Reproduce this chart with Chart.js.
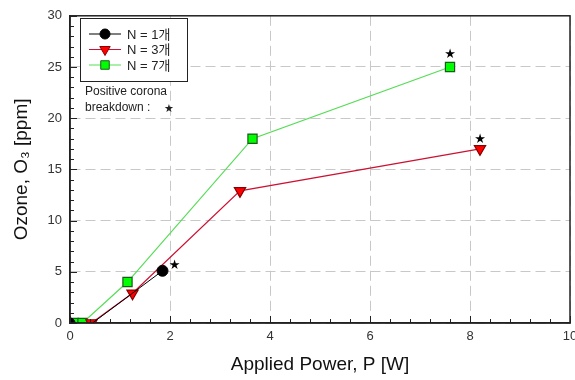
<!DOCTYPE html>
<html>
<head>
<meta charset="utf-8">
<script src="https://cdn.jsdelivr.net/npm/chart.js@4/dist/chart.umd.min.js"></script>
<style>
  body { margin: 0; background: #fff; }
</style>
</head>
<body>
<canvas id="myChart" width="575" height="380"></canvas>
<script>
// series data: [power W, ozone ppm]
const n1Power = [0, 0.45, 1.85];
const n1Ozone = [0, 0, 5.1];
const n3Power = [0.43, 1.25, 3.4, 8.2];
const n3Ozone = [0, 2.9, 12.9, 17.0];
const n7Power = [0.08, 0.25, 1.15, 3.65, 7.6];
const n7Ozone = [0, 0, 4.0, 18.0, 25.0];
const seriesNames = ['N = 1개', 'N = 3개', 'N = 7개'];
// last point of each series is the corona breakdown (star)
const breakdownMarks = [
    { ds: 0, idx: 2, dx: 12, dy: -5 },
    { ds: 1, idx: 3, dx: 0, dy: -9 },
    { ds: 2, idx: 4, dx: 0, dy: -12 }
];
const xTicks = [0, 2, 4, 6, 8, 10];
const yTicks = [0, 5, 10, 15, 20, 25, 30];

function pts(xs, ys) {
    return xs.map((x, i) => ({ x: x, y: ys[i] }));
}

const extras = {
    id: 'extras',
    afterDraw(chart) {
        const ctx = chart.ctx;
        const a = chart.chartArea;
        const xs = chart.scales.x, ys = chart.scales.y;
        ctx.save();
        // frame
        ctx.strokeStyle = '#222';
        ctx.lineWidth = 1.5;
        ctx.strokeRect(a.left, a.top, a.right - a.left, a.bottom - a.top);
        // minor / major ticks pointing inward (4 minor per major)
        ctx.lineWidth = 1;
        for (let k = 0; k <= 25; k++) {
            const px = Math.round(xs.getPixelForValue(k * 0.4)) + 0.5;
            const len = (k % 5 === 0) ? 7 : 4;
            ctx.beginPath();
            ctx.moveTo(px, a.bottom);
            ctx.lineTo(px, a.bottom - len);
            ctx.stroke();
        }
        for (let v = 0; v <= 30; v += 1) {
            const py = Math.round(ys.getPixelForValue(v)) + 0.5;
            const len = (v % 5 === 0) ? 7 : 4;
            ctx.beginPath();
            ctx.moveTo(a.left, py);
            ctx.lineTo(a.left + len, py);
            ctx.stroke();
        }
        // breakdown stars
        ctx.fillStyle = '#000';
        ctx.font = '13px "DejaVu Sans"';
        ctx.textAlign = 'center';
        ctx.textBaseline = 'middle';
        breakdownMarks.forEach(m => {
            const p = chart.data.datasets[m.ds].data[m.idx];
            ctx.fillText('★', xs.getPixelForValue(p.x) + m.dx, ys.getPixelForValue(p.y) + m.dy);
        });
        // legend box
        const lx = 80, ly = 18, lw = 107, lh = 63;
        ctx.fillStyle = '#fff';
        ctx.fillRect(lx, ly, lw, lh);
        ctx.strokeStyle = '#222';
        ctx.lineWidth = 1;
        ctx.strokeRect(lx + 0.5, ly + 0.5, lw, lh);
        ctx.textAlign = 'left';
        chart.data.datasets.forEach((ds, i) => {
            const y = ly + 16 + i * 15.5;
            ctx.strokeStyle = ds.borderColor;
            ctx.lineWidth = 1;
            ctx.beginPath();
            ctx.moveTo(lx + 9, y);
            ctx.lineTo(lx + 41, y);
            ctx.stroke();
            ctx.fillStyle = ds.pointBackgroundColor;
            ctx.strokeStyle = ds.pointBorderColor;
            Chart.helpers.drawPoint(ctx, {
                pointStyle: ds.pointStyle,
                rotation: ds.rotation || 0,
                radius: i === 0 ? 5 : 6,
                borderWidth: 1
            }, lx + 25, y);
            ctx.fillStyle = '#222';
            ctx.font = '13px "Liberation Sans", "Noto Sans CJK KR"';
            ctx.fillText(ds.label, lx + 47, y + 1);
        });
        // note
        ctx.fillStyle = '#222';
        ctx.font = '12px "Liberation Sans"';
        ctx.fillText('Positive corona', 85, 92);
        ctx.fillText('breakdown : ', 85, 108);
        ctx.font = '11px "DejaVu Sans"';
        ctx.fillText('★', 164, 109);
        ctx.restore();
    }
};

let myChart = document.getElementById('myChart').getContext('2d');

let thisChart = new Chart(myChart, {
    type: 'scatter',
    data: {
        datasets: [{
            label: seriesNames[0],
            data: pts(n1Power, n1Ozone),
            showLine: true,
            borderColor: '#000',
            borderWidth: 1,
            pointStyle: 'circle',
            pointRadius: [5, 0, 5.5],
            pointBackgroundColor: '#000',
            pointBorderColor: '#000'
        }, {
            label: seriesNames[1],
            data: pts(n3Power, n3Ozone),
            showLine: true,
            borderColor: '#cc1133',
            borderWidth: 1.2,
            pointStyle: 'triangle',
            rotation: 180,
            pointRadius: 6.5,
            pointBackgroundColor: '#ff0000',
            pointBorderColor: '#8a0000'
        }, {
            label: seriesNames[2],
            data: pts(n7Power, n7Ozone),
            showLine: true,
            borderColor: '#55dd55',
            borderWidth: 1.2,
            pointStyle: 'rect',
            pointRadius: 6.5,
            pointBackgroundColor: '#00ff00',
            pointBorderColor: '#1a5a1a'
        }]
    },
    options: {
        responsive: false,
        animation: false,
        layout: { autoPadding: false, padding: { top: 12, right: 5, left: 0, bottom: 0 } },
        plugins: {
            legend: { display: false },
            tooltip: { enabled: false }
        },
        scales: {
            x: {
                type: 'linear',
                min: 0,
                max: 10,
                afterBuildTicks: s => { s.ticks = xTicks.map(v => ({ value: v })); },
                afterFit: s => { s.height = 57; s.paddingRight = 0; s.paddingLeft = 0; },
                grid: {
                    color: '#c8c8c8',
                    drawTicks: false
                },
                border: { color: '#222', width: 1.5, dash: [10, 5] },
                ticks: {
                    padding: 6,
                    color: '#333',
                    font: { family: 'Liberation Sans', size: 13 }
                },
                title: {
                    display: true,
                    text: 'Applied Power, P [W]',
                    color: '#111',
                    font: { family: 'Liberation Sans', size: 19 },
                    padding: { top: 6 }
                }
            },
            y: {
                type: 'linear',
                min: 0,
                max: 30,
                afterBuildTicks: s => { s.ticks = yTicks.map(v => ({ value: v })); },
                afterFit: s => { s.width = 70; },
                grid: {
                    color: '#c8c8c8',
                    drawTicks: false
                },
                border: { color: '#222', width: 1.5, dash: [10, 5] },
                ticks: {
                    padding: 8,
                    color: '#333',
                    font: { family: 'Liberation Sans', size: 13 }
                },
                title: {
                    display: true,
                    text: 'Ozone, O₃ [ppm]',
                    color: '#111',
                    font: { family: 'Liberation Sans', size: 19 },
                    padding: { top: 10, bottom: 0 }
                }
            }
        }
    },
    plugins: [extras]
});
</script>
</body>
</html>
